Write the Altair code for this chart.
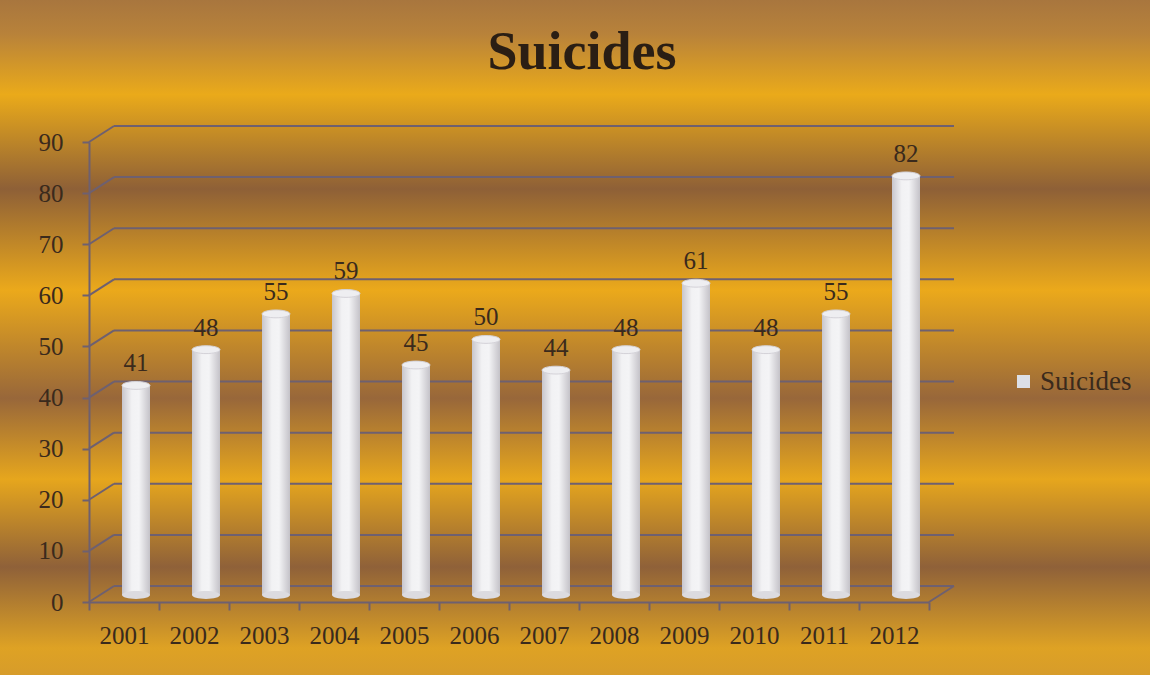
import altair as alt
import pandas as pd

years = ["2001", "2002", "2003", "2004", "2005", "2006", "2007", "2008", "2009", "2010", "2011", "2012"]
suicides = [41, 48, 55, 59, 45, 50, 44, 48, 61, 48, 55, 82]
series_name = "Suicides"
grid_values = [0, 10, 20, 30, 40, 50, 60, 70, 80, 90]

W, H = 840, 460
PAD_L, PAD_T = 89, 142
TOTAL_W, TOTAL_H = 1150, 675
DX, DY = 25, -16
BAR_SHIFT = -7

df = pd.DataFrame({"year": years, "value": suicides, "series": series_name})
grid_df = pd.DataFrame({"v": grid_values})

serif = "Liberation Serif"
text_col = "#3a2a1c"
grid_col = "#6e6070"

x_enc = alt.X("year:N", sort=years, title=None,
              scale=alt.Scale(paddingInner=0, paddingOuter=0),
              axis=alt.Axis(labelFont=serif, labelFontSize=25, labelColor=text_col,
                            labelAngle=0, labelPadding=13, domainColor=grid_col,
                            domainWidth=2, tickColor=grid_col, tickWidth=2, tickSize=8,
                            tickBand="extent", grid=False, zindex=1))
y_scale = alt.Scale(domain=[0, 90], nice=False)
y_enc = alt.Y("value:Q", scale=y_scale, title=None,
              axis=alt.Axis(values=grid_values, labelFont=serif, labelFontSize=25,
                            labelColor=text_col, labelPadding=19, domainColor=grid_col,
                            domainWidth=2, tickColor=grid_col, tickWidth=2, tickSize=7,
                            grid=False, zindex=1))

bg_gradient = alt.LinearGradient(
    gradient="linear", x1=0, y1=0, x2=0, y2=1,
    stops=[
        alt.GradientStop(offset=0.0, color="#a8763e"),
        alt.GradientStop(offset=0.05, color="#b8823a"),
        alt.GradientStop(offset=0.14, color="#eaaa1a"),
        alt.GradientStop(offset=0.28, color="#8e6037"),
        alt.GradientStop(offset=0.43, color="#eba91b"),
        alt.GradientStop(offset=0.59, color="#98673a"),
        alt.GradientStop(offset=0.71, color="#e6a61d"),
        alt.GradientStop(offset=0.84, color="#8f6139"),
        alt.GradientStop(offset=0.96, color="#dea224"),
        alt.GradientStop(offset=1.0, color="#d79c2a"),
    ])

background = alt.Chart(alt.Data(values=[{}])).mark_rect(fill=bg_gradient).encode(
    x=alt.value(-PAD_L), x2=alt.value(TOTAL_W - PAD_L),
    y=alt.value(-PAD_T), y2=alt.value(TOTAL_H - PAD_T))

back_grid = alt.Chart(grid_df).mark_rule(color=grid_col, strokeWidth=2, yOffset=DY).encode(
    x=alt.value(DX), x2=alt.value(W + DX),
    y=alt.Y("v:Q", scale=y_scale))

diag = alt.Chart(grid_df).mark_rule(color=grid_col, strokeWidth=2, y2Offset=DY).encode(
    x=alt.value(0), x2=alt.value(DX),
    y=alt.Y("v:Q", scale=y_scale), y2="v:Q")

right_diag = alt.Chart(grid_df).transform_filter("datum.v == 0").mark_rule(
    color=grid_col, strokeWidth=2, y2Offset=DY).encode(
    x=alt.value(W), x2=alt.value(W + DX),
    y=alt.Y("v:Q", scale=y_scale), y2="v:Q")

bar_legend = alt.Chart(df).mark_bar(size=28, xOffset=12, yOffset=BAR_SHIFT, y2Offset=BAR_SHIFT).encode(
    x=x_enc, y=y_enc,
    color=alt.Color("series:N", title=None,
                    scale=alt.Scale(range=["#dcdfe6"]),
                    legend=alt.Legend(orient="none", legendX=921, legendY=226,
                                      symbolType="square", symbolSize=170,
                                      symbolStrokeWidth=0, labelFont=serif,
                                      labelFontSize=27, labelColor=text_col,
                                      labelOffset=3, zindex=2)))

cyl_gradient = alt.LinearGradient(
    gradient="linear", x1=0, y1=0, x2=1, y2=0,
    stops=[
        alt.GradientStop(offset=0.0, color="#c8c6cc"),
        alt.GradientStop(offset=0.35, color="#f2f2f4"),
        alt.GradientStop(offset=0.6, color="#f4f4f6"),
        alt.GradientStop(offset=1.0, color="#c4c2c8"),
    ])

bar_cyl = alt.Chart(df).mark_bar(size=28, xOffset=12, yOffset=BAR_SHIFT, y2Offset=BAR_SHIFT,
                                 fill=cyl_gradient).encode(
    x=alt.X("year:N", sort=years), y=alt.Y("value:Q", scale=y_scale))

ellipse = "M-1,0 A1,0.28 0 1,1 1,0 A1,0.28 0 1,1 -1,0 Z"
caps = alt.Chart(df).mark_point(shape=ellipse, size=784, filled=True, opacity=1,
                                 fill="#eeeef1", stroke="#d4d2d8", strokeWidth=1,
                                 xOffset=12, yOffset=BAR_SHIFT).encode(
    x=alt.X("year:N", sort=years), y=alt.Y("value:Q", scale=y_scale))

bottoms = alt.Chart(df).transform_calculate(base="0").mark_point(
    shape=ellipse, size=784, filled=True, opacity=1,
    fill="#dcdbe0", strokeWidth=0, xOffset=12, yOffset=BAR_SHIFT).encode(
    x=alt.X("year:N", sort=years), y=alt.Y("base:Q", scale=y_scale))

labels = alt.Chart(df).mark_text(font=serif, fontSize=25, color=text_col,
                                 dy=-22, xOffset=12, yOffset=BAR_SHIFT).encode(
    x=alt.X("year:N", sort=years), y=alt.Y("value:Q", scale=y_scale),
    text="value:Q")

chart = alt.layer(background, diag, back_grid, right_diag, bar_legend, bar_cyl,
                  bottoms, caps, labels).properties(
    width=W, height=H,
    autosize=alt.AutoSizeParams(type="none"),
    padding={"left": PAD_L, "top": PAD_T, "right": TOTAL_W - PAD_L - W,
             "bottom": TOTAL_H - PAD_T - H},
    background="#c8903a",
    title=alt.TitleParams("Suicides", font=serif, fontSize=54, fontWeight="bold",
                          color="#2a1e14", anchor="middle", frame="group",
                          dx=73, offset=-80, zindex=2),
).configure_view(stroke=None)

chart.save("out.html", embed_options={"renderer": "svg", "actions": False})
